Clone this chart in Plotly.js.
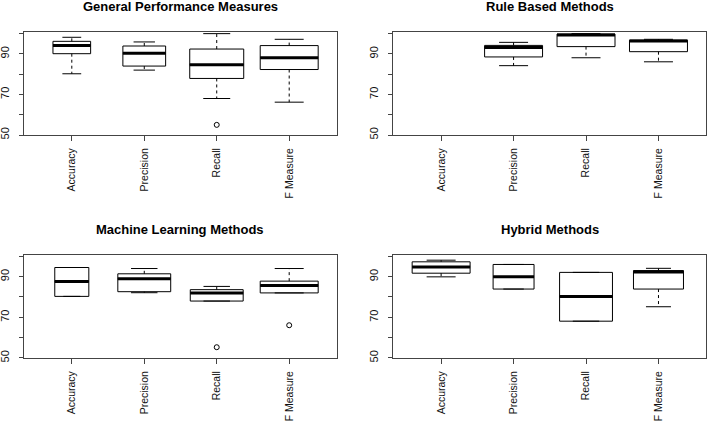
<!DOCTYPE html>
<html>
<head>
<meta charset="utf-8">
<script src="https://cdn.plot.ly/plotly-3.0.1.min.js"></script>
<style>
  html, body { margin: 0; padding: 0; background: #fff; }
  #chart { width: 707px; height: 424px; }
</style>
</head>
<body>
<div id="chart"></div>
<script>
// Measures shown on every panel
const categories = ['Accuracy', 'Precision', 'Recall', 'F Measure'];

// General Performance Measures (null = no data)
const generalLower  = [80.2, 82.0, 68.0, 66.2];
const generalQ1     = [90.1, 84.0, 77.9, 82.3];
const generalMedian = [94.1, 90.3, 84.7, 88.1];
const generalQ3     = [96.2, 93.9, 92.4, 94.1];
const generalUpper  = [98.2, 95.9, 100.0, 97.2];
const generalOutliers = [[], [], [55.0], []];

// Rule Based Methods
const ruleLower  = [null, 84.2, 88.1, 86.1];
const ruleQ1     = [null, 88.5, 93.6, 91.1];
const ruleMedian = [null, 93.1, 99.3, 96.4];
const ruleQ3     = [null, 94.2, 99.8, 96.8];
const ruleUpper  = [null, 95.7, 100.0, 97.2];
const ruleOutliers = [[], [], [], []];

// Machine Learning Methods
const mlLower  = [80.3, 82.1, 78.0, 82.0];
const mlQ1     = [80.3, 82.6, 78.0, 82.0];
const mlMedian = [87.6, 89.0, 82.0, 85.6];
const mlQ3     = [94.5, 91.4, 83.6, 87.8];
const mlUpper  = [94.5, 94.0, 85.2, 94.0];
const mlOutliers = [[], [], [55.3], [66.1]];

// Hybrid Methods
const hybridLower  = [89.9, 83.9, 68.1, 75.2];
const hybridQ1     = [91.7, 83.9, 68.1, 83.9];
const hybridMedian = [94.8, 90.0, 80.2, 92.3];
const hybridQ3     = [97.3, 96.0, 92.1, 93.0];
const hybridUpper  = [98.1, 96.0, 92.1, 94.1];
const hybridOutliers = [[], [], [], []];

// Panel setup: title, data, box widths (varwidth look), domains
const panels = [
    {
        title: 'General Performance Measures',
        lower: generalLower, q1: generalQ1, median: generalMedian, q3: generalQ3, upper: generalUpper,
        outliers: generalOutliers,
        widths: [0.52, 0.59, 0.745, 0.8],
        xdomain: [0.0339, 0.4767], ydomain: [0.6816, 0.9245]
    },
    {
        title: 'Rule Based Methods',
        lower: ruleLower, q1: ruleQ1, median: ruleMedian, q3: ruleQ3, upper: ruleUpper,
        outliers: ruleOutliers,
        widths: [0.8, 0.8, 0.8, 0.8],
        xdomain: [0.5563, 0.999], ydomain: [0.6816, 0.9245]
    },
    {
        title: 'Machine Learning Methods',
        lower: mlLower, q1: mlQ1, median: mlMedian, q3: mlQ3, upper: mlUpper,
        outliers: mlOutliers,
        widths: [0.47, 0.73, 0.73, 0.8],
        xdomain: [0.0339, 0.4767], ydomain: [0.1557, 0.3993]
    },
    {
        title: 'Hybrid Methods',
        lower: hybridLower, q1: hybridQ1, median: hybridMedian, q3: hybridQ3, upper: hybridUpper,
        outliers: hybridOutliers,
        widths: [0.8, 0.565, 0.73, 0.69],
        xdomain: [0.5563, 0.999], ydomain: [0.1557, 0.3993]
    }
];

const FONT = '"Liberation Sans", Arial, Helvetica, sans-serif';
const positions = categories.map((c, i) => i + 1);

const data = [];
const layout = {
    width: 707,
    height: 424,
    margin: { l: 0, r: 0, t: 0, b: 0 },
    paper_bgcolor: '#ffffff',
    plot_bgcolor: '#ffffff',
    showlegend: false,
    font: { family: FONT, size: 11, color: '#111' },
    annotations: []
};

panels.forEach((p, k) => {
    const xa = k === 0 ? 'x' : 'x' + (k + 1);
    const ya = k === 0 ? 'y' : 'y' + (k + 1);

    positions.forEach((pos, i) => {
        if (p.median[i] === null) return;
        const w = p.widths[i];

        // box body (whiskers drawn separately so they can be dashed)
        data.push({
            type: 'box',
            x: [pos],
            q1: [p.q1[i]],
            median: [p.median[i]],
            q3: [p.q3[i]],
            lowerfence: [p.q1[i]],
            upperfence: [p.q3[i]],
            width: w,
            whiskerwidth: 0,
            fillcolor: '#ffffff',
            line: { color: '#000', width: 1 },
            xaxis: xa,
            yaxis: ya,
            hoverinfo: 'skip'
        });

        // dashed whiskers
        data.push({
            type: 'scatter',
            mode: 'lines',
            x: [pos, pos, null, pos, pos],
            y: [p.q3[i], p.upper[i], null, p.q1[i], p.lower[i]],
            line: { color: '#000', width: 1, dash: '3px,3px' },
            xaxis: xa, yaxis: ya, hoverinfo: 'skip'
        });

        // staples
        data.push({
            type: 'scatter',
            mode: 'lines',
            x: [pos - w / 4, pos + w / 4, null, pos - w / 4, pos + w / 4],
            y: [p.upper[i], p.upper[i], null, p.lower[i], p.lower[i]],
            line: { color: '#000', width: 1 },
            xaxis: xa, yaxis: ya, hoverinfo: 'skip'
        });

        // thick median
        data.push({
            type: 'scatter',
            mode: 'lines',
            x: [pos - w / 2, pos + w / 2],
            y: [p.median[i], p.median[i]],
            line: { color: '#000', width: 3 },
            xaxis: xa, yaxis: ya, hoverinfo: 'skip'
        });

        // outliers
        if (p.outliers[i].length) {
            data.push({
                type: 'scatter',
                mode: 'markers',
                x: p.outliers[i].map(() => pos),
                y: p.outliers[i],
                marker: { symbol: 'circle-open', size: 5, color: '#000', line: { width: 1 } },
                xaxis: xa, yaxis: ya, hoverinfo: 'skip'
            });
        }
    });

    layout['xaxis' + (k === 0 ? '' : k + 1)] = {
        domain: p.xdomain,
        anchor: ya,
        range: [0.34, 4.66],
        tickmode: 'array',
        tickvals: positions,
        ticktext: categories,
        tickangle: -90,
        ticks: 'outside',
        ticklen: 5,
        tickcolor: '#444',
        ticklabelstandoff: 3,
        tickfont: { family: FONT, size: 10.5, color: '#111' },
        showline: true,
        mirror: true,
        linecolor: '#444',
        linewidth: 1,
        showgrid: false,
        zeroline: false,
        fixedrange: true
    };
    layout['yaxis' + (k === 0 ? '' : k + 1)] = {
        domain: p.ydomain,
        anchor: xa,
        range: [50, 100.8],
        tickmode: 'array',
        tickvals: [50, 60, 70, 80, 90, 100],
        ticktext: ['50', '', '70', '', '90', ''],
        tickangle: -90,
        ticks: 'outside',
        ticklen: 4,
        tickcolor: '#444',
        ticklabelstandoff: 6,
        tickfont: { family: FONT, size: 11, color: '#111' },
        showline: true,
        mirror: true,
        linecolor: '#444',
        linewidth: 1,
        showgrid: false,
        zeroline: false,
        fixedrange: true
    };

    layout.annotations.push({
        text: '<b>' + p.title + '</b>',
        xref: 'paper',
        yref: 'paper',
        x: (p.xdomain[0] + p.xdomain[1]) / 2,
        y: k < 2 ? 1 - 6.5 / 424 : 1 - 229 / 424,
        xanchor: 'center',
        yanchor: 'middle',
        showarrow: false,
        font: { family: FONT, size: 13, color: '#000' }
    });
});

Plotly.newPlot('chart', data, layout, { displayModeBar: false, staticPlot: true });
</script>
</body>
</html>
